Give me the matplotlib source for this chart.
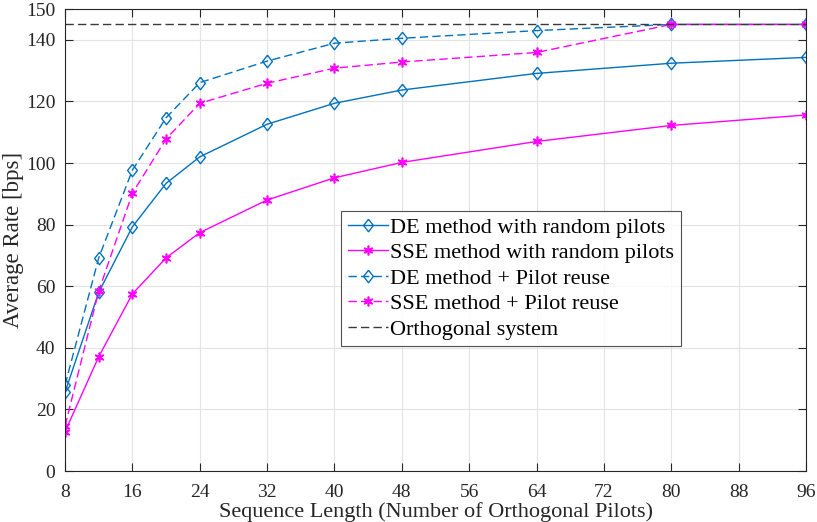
#!/usr/bin/env python
############################################################
import numpy as np
import matplotlib as mpl
import matplotlib.pyplot as plt

mpl.use('agg')
mpl.rcParams['font.family'] = ['Liberation Serif', 'DejaVu Serif']
mpl.rcParams['axes.unicode_minus'] = False

############################################################
# data
############################################################
seq_len     = [8, 12, 16, 20, 24, 32, 40, 48, 64, 80, 96]
de_random   = [25.6, 58.0, 79.3, 93.4, 102.0, 112.6, 119.4, 123.7, 129.1, 132.4, 134.3]
sse_random  = [12.8, 37.1, 57.5, 69.2, 77.4, 88.0, 95.2, 100.2, 107.0, 112.2, 115.6]
de_reuse    = [27.9, 69.2, 97.7, 114.7, 126.1, 133.1, 138.9, 140.5, 143.0, 145.0, 145.0]
sse_reuse   = [14.6, 58.4, 90.2, 107.8, 119.4, 125.9, 130.8, 132.8, 135.9, 145.0, 145.0]
orthogonal  = 145.0

xticks = np.arange(8, 97, 8)
yticks = [0, 20, 40, 60, 80, 100, 120, 140, 150]

blue    = '#0072BD'
magenta = '#FF00FF'
axcol   = '#262626'

# MATLAB-like diamond (a bit wider than matplotlib's 'd')
diamond = [(0, 1), (0.78, 0), (0, -1), (-0.78, 0), (0, 1)]
star    = (6, 2, 0)

############################################################
fig = plt.figure(figsize=(8.17, 5.22), dpi=100)
ax  = fig.add_axes([0.0796, 0.0977, 0.907, 0.885])

ax.plot(seq_len, de_random, '-', color=blue, lw=1.0, marker=diamond,
        ms=9, mfc='none', mew=1.0, label='DE method with random pilots')
ax.plot(seq_len, sse_random, '-', color=magenta, lw=1.0, marker=star,
        ms=7, mew=1.2, label='SSE method with random pilots')
ax.plot(seq_len, de_reuse, '--', color=blue, lw=1.0, marker=diamond,
        ms=9, mfc='none', mew=1.0, dashes=(6, 3),
        label='DE method + Pilot reuse')
ax.plot(seq_len, sse_reuse, '--', color=magenta, lw=1.0, marker=star,
        ms=7, mew=1.2, dashes=(6, 3), label='SSE method + Pilot reuse')
ax.plot([seq_len[0], seq_len[-1]], [orthogonal, orthogonal], '--',
        color='#3a3a3a', lw=1.0, dashes=(6, 3), label='Orthogonal system')

############################################################
ax.set_xlim(8, 96)
ax.set_ylim(0, 150)
ax.set_xticks(xticks)
ax.set_yticks(yticks)
ax.grid(True, color='#e3e3e3', lw=0.8)
ax.set_axisbelow(True)

ax.tick_params(direction='in', length=6, width=0.8, colors=axcol,
               labelsize=14, top=True, right=True)
ax.tick_params(axis='x', pad=9)
ax.tick_params(axis='y', pad=7)
for sp in ax.spines.values():
    sp.set_color(axcol)
    sp.set_linewidth(0.8)

ax.set_xlabel('Sequence Length (Number of Orthogonal Pilots)', fontsize=16,
              color=axcol, labelpad=1)
ax.set_ylabel('Average Rate [bps]', fontsize=16.5, color=axcol, labelpad=1)

leg = ax.legend(loc='center left', bbox_to_anchor=(0.3725, 0.417),
                fontsize=16, frameon=True, fancybox=False,
                handlelength=1.8, handletextpad=0.1, borderpad=0.3,
                labelspacing=0.22, borderaxespad=0)
leg.get_frame().set_edgecolor(axcol)
leg.get_frame().set_linewidth(0.8)

########################################
plt.savefig('out.png')
